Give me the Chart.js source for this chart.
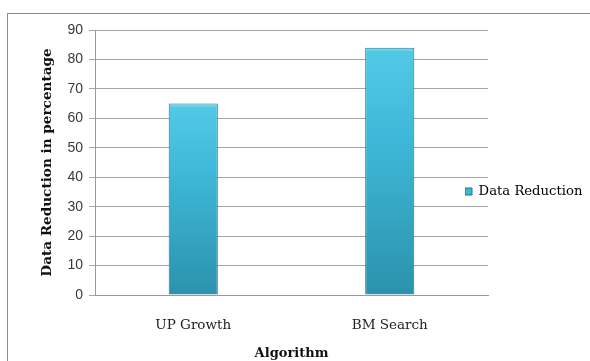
<!DOCTYPE html>
<html>
<head>
<meta charset="utf-8">
<script src="https://cdn.jsdelivr.net/npm/chart.js@4.4.0/dist/chart.umd.min.js"></script>
<style>
  html, body { margin: 0; padding: 0; background: #fff; overflow: hidden; }
  #frame { position: absolute; left: 7px; top: 13px; width: 700px; height: 500px; border: 1px solid #8c8c8c; }
  #wrap { position: absolute; left: 0; top: 0; width: 590px; height: 361px; }
</style>
</head>
<body>
<div id="frame"></div>
<div id="wrap"><canvas id="chart"></canvas></div>
<script>
(() => {
  'use strict'
  // valeurs du graphe
  const algorithms = ['UP Growth', 'BM Search'];
  const reduction = [65, 84];
  const yTicks = [0, 10, 20, 30, 40, 50, 60, 70, 80, 90];

  // dégradé vertical des barres (reflet clair en haut, plus sombre en bas)
  const barFill = (context) => {
    const { chart } = context;
    const y = chart.scales.y;
    if (!y || context.raw === undefined) return '#3bb4d4';
    const top = y.getPixelForValue(context.raw);
    const base = y.getPixelForValue(0);
    if (!Number.isFinite(top) || !Number.isFinite(base) || top === base) return '#3bb4d4';
    const g = chart.ctx.createLinearGradient(0, top, 0, base);
    const cap = 4 / (base - top);
    g.addColorStop(0, '#8ae2f6');
    g.addColorStop(cap, '#52c8e6');
    g.addColorStop(0.35, '#3fb9d9');
    g.addColorStop(1, '#2b92ad');
    return g;
  };

  // la légende déborde un peu sur la zone du graphe, comme dans Excel
  const legendShift = {
    id: 'legendShift',
    afterLayout(chart) {
      const lg = chart.legend;
      if (!lg) return;
      lg.left -= 23;
      lg.top -= 8;
    }
  };

  const serif = "'DejaVu Serif', 'Liberation Serif', serif";

  new Chart(document.getElementById('chart'), {
    type: 'bar',
    data: {
      labels: algorithms,
      datasets: [{
        label: 'Data Reduction',
        data: reduction,
        backgroundColor: barFill,
        borderColor: '#247588',
        borderWidth: 1,
        categoryPercentage: 1,
        barPercentage: 0.25
      }]
    },
    plugins: [legendShift],
    options: {
      responsive: true,
      maintainAspectRatio: false,
      animation: false,
      layout: { padding: { top: 30, right: 0, left: 0, bottom: 0 } },
      plugins: {
        legend: {
          position: 'right',
          maxWidth: 102,
          labels: {
            boxWidth: 7,
            boxHeight: 7,
            padding: 0,
            color: '#222',
            font: { family: serif, size: 13.2 },
            generateLabels: () => [{
              text: 'Data Reduction',
              fillStyle: '#3cb8d8',
              strokeStyle: '#247588',
              lineWidth: 1,
              datasetIndex: 0
            }]
          }
        },
        tooltip: { enabled: false }
      },
      scales: {
        x: {
          grid: { display: false },
          border: { color: '#9a9a9a' },
          ticks: { color: '#222', font: { family: serif, size: 13.5 }, padding: 14 },
          title: {
            display: true,
            text: 'Algorithm',
            color: '#111',
            font: { family: serif, size: 13, weight: 'bold' },
            padding: { top: 8, bottom: 0 }
          },
          afterFit: (scale) => { scale.height = 66; }
        },
        y: {
          min: 0,
          max: 90,
          afterBuildTicks: (scale) => { scale.ticks = yTicks.map(v => ({ value: v })); },
          grid: { color: '#a6a6a6', tickLength: 6, tickColor: '#a6a6a6' },
          border: { color: '#9a9a9a' },
          ticks: { color: '#3a3a3a', font: { family: "'Liberation Sans', Arial, sans-serif", size: 14 }, padding: 6 },
          title: {
            display: true,
            text: 'Data Reduction in percentage',
            color: '#111',
            font: { family: serif, size: 13.6, weight: 'bold' },
            padding: { top: 39, bottom: 0 }
          },
          afterFit: (scale) => { scale.width = 95; }
        }
      }
    }
  });
})();
</script>
</body>
</html>
